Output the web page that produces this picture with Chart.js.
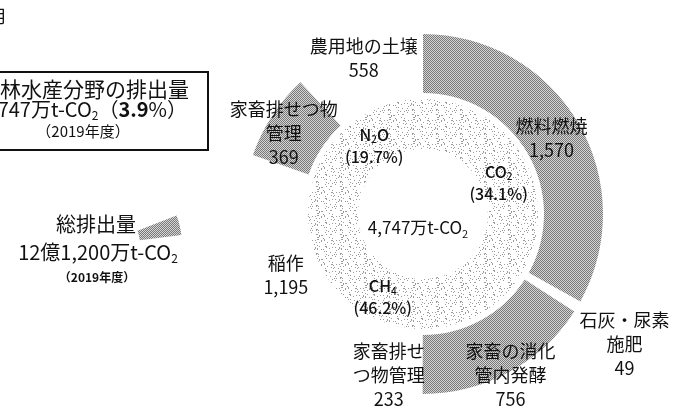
<!DOCTYPE html>
<html lang="ja">
<head>
<meta charset="utf-8">
<script src="https://cdn.jsdelivr.net/npm/chart.js@4.4.1/dist/chart.umd.min.js"></script>
<style>
  html, body { margin: 0; padding: 0; background: #fff; }
  #wrap { position: relative; width: 680px; height: 410px; overflow: hidden; }
  #totalChart { position: absolute; left: 18px; top: 163px; }
  #mainChart { position: absolute; left: 0; top: 0; }
</style>
</head>
<body>
<div id="wrap">
  <canvas id="totalChart" width="164" height="164"></canvas>
  <canvas id="mainChart" width="680" height="410"></canvas>
</div>
<script>
// 農林水産分野の温室効果ガス排出量 (2019年度, 万t-CO2)
const gasLabels = ['CO_2', 'CH_4', 'N_2O'];
const gasShares = [34.1, 46.2, 19.7];

// outer ring, clockwise from the top; 'その他' are the small unlabeled remainders
const sourceLabels = ['燃料燃焼', '石灰・尿素\n施肥', '家畜の消化\n管内発酵', '家畜排せ\nつ物管理', '稲作', 'その他', '家畜排せつ物\n管理', '農用地の土壌', 'その他'];
const sourceValues = [1570, 49, 756, 233, 1195, 9, 369, 558, 8];
const sourceShaded = [true, false, true, false, false, false, true, false, false];
const sourceHasLabel = [true, true, true, true, true, false, true, true, false];

const sectorTotal = '4,747万t-CO_2';
const totalLabels = ['農林水産分野', 'その他の分野'];
const totalShares = [3.9, 96.1];

// label anchors: [radius px, angle nudge deg]
const outerAnchor = [[149, 0], [240, 2], [183, 0], [165, 3], [150, 3], [0, 0], [161, -3], [167, 1], [0, 0]];
const innerAnchor = [[82, 6], [92, 0], [84, 0]];

const FONT = '"Noto Sans CJK JP", "Noto Sans", sans-serif';

function makePattern(size, base, dotColor, isDot) {
    const c = document.createElement('canvas');
    c.width = size; c.height = size;
    const g = c.getContext('2d');
    g.fillStyle = base;
    g.fillRect(0, 0, size, size);
    g.fillStyle = dotColor;
    for (let y = 0; y < size; y++) {
        for (let x = 0; x < size; x++) {
            if (isDot(x, y)) g.fillRect(x, y, 1, 1);
        }
    }
    return g.createPattern(c, 'repeat');
}
// fixed scatter for the paper-grain look of the gas ring
function grain(x, y) {
    let h = Math.imul(x * 73856093 ^ y * 19349663, 0x27d4eb2d);
    h ^= h >>> 15;
    h = Math.imul(h, 0x85ebca6b);
    h ^= h >>> 13;
    return (h >>> 0) % 100 < 11;
}
const shade = makePattern(2, '#d6d6d6', '#787878', (x, y) => (x + y) % 2 === 0);
const speckle = makePattern(24, '#ffffff', '#9c9c9c', grain);

// '_' makes the next char a subscript, '*' toggles bold
function drawRich(ctx, str, cx, cy, size, weight) {
    const parts = [];
    let bold = false;
    for (let i = 0; i < str.length; i++) {
        const ch = str[i];
        if (ch === '*') { bold = !bold; continue; }
        if (ch === '_') { parts.push({ t: str[i + 1], sub: true, bold }); i++; continue; }
        const last = parts[parts.length - 1];
        if (last && !last.sub && last.bold === bold) last.t += ch;
        else parts.push({ t: ch, sub: false, bold });
    }
    const fontFor = p => (p.bold ? 'bold ' : (weight || 'normal') + ' ') +
        (p.sub ? Math.round(size * 0.62) : size) + 'px ' + FONT;
    let w = 0;
    parts.forEach(p => { ctx.font = fontFor(p); p.w = ctx.measureText(p.t).width; w += p.w; });
    let x = cx - w / 2;
    ctx.textAlign = 'left';
    ctx.textBaseline = 'middle';
    parts.forEach(p => {
        ctx.font = fontFor(p);
        ctx.fillText(p.t, x, cy + (p.sub ? size * 0.32 : 0));
        x += p.w;
    });
}

const labelPlugin = {
    id: 'ringLabels',
    afterDatasetsDraw(chart) {
        const ctx = chart.ctx;
        ctx.save();
        ctx.fillStyle = '#111';

        chart.getDatasetMeta(0).data.forEach((arc, i) => {
            if (!sourceHasLabel[i]) return;
            const [r, nudge] = outerAnchor[i];
            const a = (arc.startAngle + arc.endAngle) / 2 + nudge * Math.PI / 180;
            const x = arc.x + Math.cos(a) * r;
            const y = arc.y + Math.sin(a) * r;
            const lines = sourceLabels[i].split('\n').concat(sourceValues[i].toLocaleString('en-US'));
            lines.forEach((t, k) => drawRich(ctx, t, x, y + (k - (lines.length - 1) / 2) * 24, 18));
        });

        const inner = chart.getDatasetMeta(2).data;
        inner.forEach((arc, i) => {
            const [r, nudge] = innerAnchor[i];
            const a = (arc.startAngle + arc.endAngle) / 2 + nudge * Math.PI / 180;
            const x = arc.x + Math.cos(a) * r;
            const y = arc.y + Math.sin(a) * r;
            drawRich(ctx, gasLabels[i], x, y - 11, 16, '500');
            drawRich(ctx, '(' + gasShares[i].toFixed(1) + '%)', x, y + 11, 16, '500');
        });

        drawRich(ctx, sectorTotal, inner[0].x - 5, inner[0].y + 14, 17);

        // cropped title and the sector box on the left
        ctx.font = '18px ' + FONT;
        ctx.textAlign = 'right';
        ctx.textBaseline = 'middle';
        ctx.fillText('用', 6, 16);

        ctx.strokeStyle = '#111';
        ctx.lineWidth = 2;
        ctx.strokeRect(-40, 72, 248, 78);
        drawRich(ctx, '農林水産分野の排出量', 84, 89, 21);
        drawRich(ctx, '4,747万t-CO_2（*3.9*%）', 84, 109, 20);
        drawRich(ctx, '（2019年度）', 83, 131, 15);

        drawRich(ctx, '総排出量', 96, 224, 20);
        drawRich(ctx, '12億1,200万t-CO_2', 98, 252, 20);
        drawRich(ctx, '*（2019年度）*', 97, 277, 12);
        ctx.restore();
    }
};

new Chart(document.getElementById('totalChart'), {
    type: 'doughnut',
    data: {
        labels: totalLabels,
        datasets: [{
            data: totalShares,
            backgroundColor: [shade, 'rgba(0,0,0,0)'],
            borderWidth: 0
        }]
    },
    options: {
        responsive: false,
        animation: false,
        events: [],
        rotation: 69,
        cutout: 40,
        plugins: { legend: { display: false }, tooltip: { enabled: false } }
    }
});

new Chart(document.getElementById('mainChart'), {
    type: 'doughnut',
    data: {
        labels: sourceLabels,
        datasets: [
            {
                data: sourceValues,
                backgroundColor: sourceShaded.map(s => s ? shade : 'rgba(0,0,0,0)'),
                borderWidth: 0,
                weight: 59
            },
            {
                // white gap between the two rings
                data: [1],
                backgroundColor: 'rgba(0,0,0,0)',
                borderWidth: 0,
                weight: 6
            },
            {
                data: gasShares,
                backgroundColor: speckle,
                borderWidth: 0,
                weight: 50
            }
        ]
    },
    options: {
        responsive: false,
        animation: false,
        events: [],
        cutout: 65,
        layout: { padding: { left: 243, right: 77, top: 34, bottom: 16 } },
        plugins: { legend: { display: false }, tooltip: { enabled: false } }
    },
    plugins: [labelPlugin]
});
</script>
</body>
</html>
